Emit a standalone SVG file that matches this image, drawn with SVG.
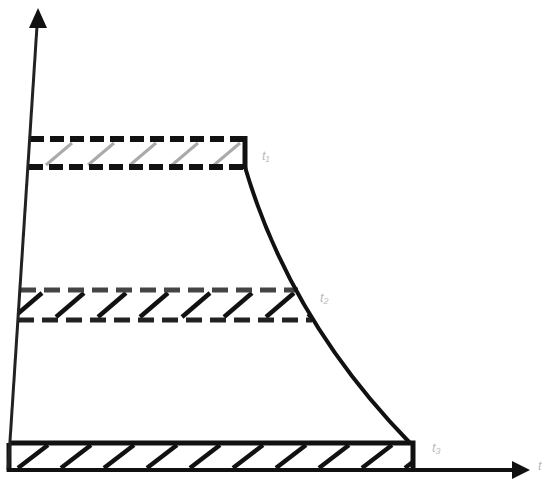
<svg xmlns="http://www.w3.org/2000/svg" width="556" height="494" viewBox="0 0 556 494">
<style>
.ax{stroke:#222;stroke-width:3;fill:none}
.head{fill:#111}
.hatch{stroke:#111;stroke-width:4.5}
.lhatch{stroke:#aaa;stroke-width:3}
.dash{stroke:#111;stroke-width:6;stroke-dasharray:14 6;fill:none}
.lbl{font-family:"Liberation Sans",sans-serif;font-size:13px;font-style:italic;fill:#bbb}
</style>
<defs>
<clipPath id="shape"><path d="M29.8,139 L245,139 L245,167 Q290,320 410,443 L413,443 L413,470 L8,470 Z"/></clipPath>
<pattern id="h1" patternUnits="userSpaceOnUse" width="42" height="30" x="0" y="139"><line x1="4" y1="26" x2="30" y2="4" class="lhatch"/></pattern>
<pattern id="h2" patternUnits="userSpaceOnUse" width="42" height="30" x="10" y="290"><line x1="4" y1="27" x2="32" y2="3" class="hatch"/></pattern>
<pattern id="h3" patternUnits="userSpaceOnUse" width="43" height="27" x="15" y="443"><line x1="3" y1="25" x2="33" y2="2" class="hatch"/></pattern>
</defs>
<rect width="556" height="494" fill="#fff"/>
<g id="bands" clip-path="url(#shape)">
<rect x="0" y="139" width="260" height="28" fill="url(#h1)"/>
<rect x="0" y="290" width="340" height="30" fill="url(#h2)"/>
<rect x="0" y="443" width="420" height="27" fill="url(#h3)"/>
</g>
<g id="band-borders">
<line x1="30" y1="139" x2="245" y2="139" class="dash"/>
<line x1="29" y1="167" x2="245" y2="167" class="dash"/>
<line x1="245" y1="136" x2="245" y2="169" stroke="#111" stroke-width="5"/>
<line x1="20" y1="290" x2="298" y2="290" stroke="#444" stroke-width="5" stroke-dasharray="16 8"/>
<line x1="18" y1="320" x2="312" y2="320" stroke="#222" stroke-width="5" stroke-dasharray="16 8"/>
<path d="M9,443 L413,443 L413,470" stroke="#111" stroke-width="5" fill="none"/>
<line x1="9" y1="443" x2="9" y2="470" stroke="#111" stroke-width="5"/>
</g>
<g id="connectors">
<path d="M245,167 Q290,320 410,443" stroke="#111" stroke-width="4" fill="none"/>
<line x1="8" y1="472" x2="37" y2="26" class="ax"/>
<polygon points="38,8 29,28 47,28" class="head"/>
<line x1="7" y1="470" x2="514" y2="470" stroke="#111" stroke-width="4"/>
<polygon points="530,470 512,461 512,479" class="head"/>
</g>
<g id="labels">
<text x="262" y="160" class="lbl">t₁</text>
<text x="320" y="302" class="lbl">t₂</text>
<text x="432" y="452" class="lbl">t₃</text>
<text x="538" y="470" class="lbl">t</text>
</g>
</svg>
